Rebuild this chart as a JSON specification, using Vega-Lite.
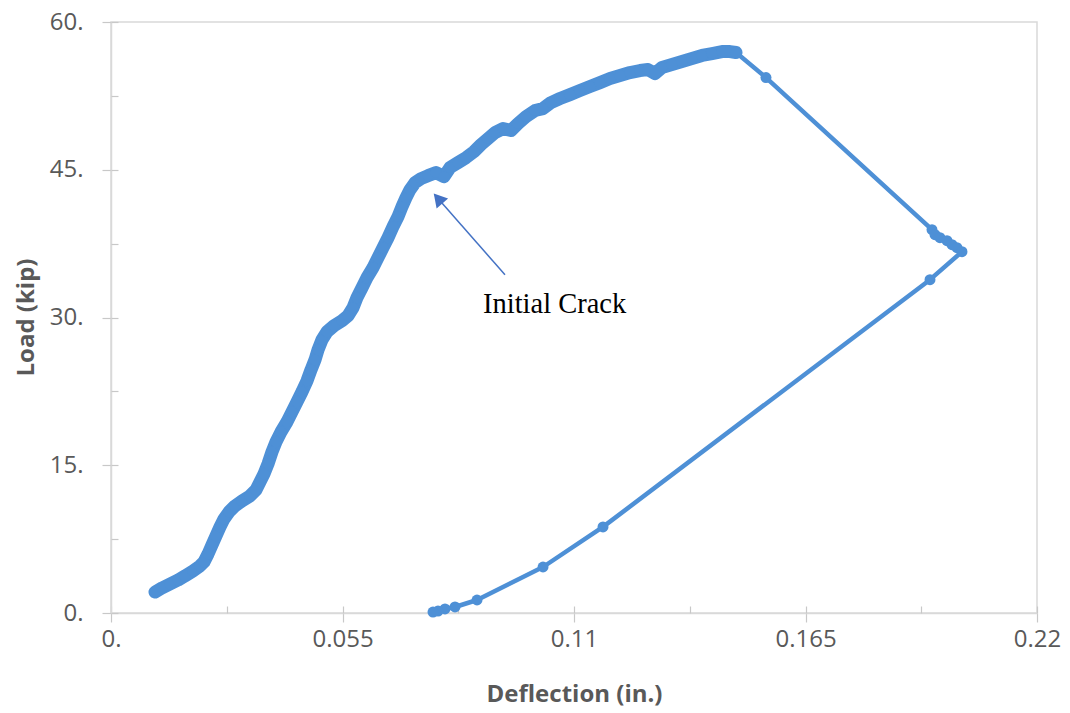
{
  "$schema": "https://vega.github.io/schema/vega-lite/v6.json",
  "width": 926,
  "height": 591,
  "autosize": {"type": "none"},
  "padding": {"left": 111, "top": 22, "right": 33, "bottom": 100},
  "background": "white",
  "config": {
    "view": {"stroke": "#D9D9D9", "strokeWidth": 1.5},
    "font": "Open Sans"
  },
  "datasets": {
    "curve": [
      {"i":1,"seg":"load","deflection":0.01045,"load":2.13},
      {"i":2,"seg":"load","deflection":0.01212,"load":2.54},
      {"i":3,"seg":"load","deflection":0.01402,"load":2.95},
      {"i":4,"seg":"load","deflection":0.01592,"load":3.35},
      {"i":5,"seg":"load","deflection":0.01758,"load":3.76},
      {"i":6,"seg":"load","deflection":0.01948,"load":4.27},
      {"i":7,"seg":"load","deflection":0.02114,"load":4.78},
      {"i":8,"seg":"load","deflection":0.02209,"load":5.18},
      {"i":9,"seg":"load","deflection":0.02305,"load":5.99},
      {"i":10,"seg":"load","deflection":0.024,"load":6.91},
      {"i":11,"seg":"load","deflection":0.02495,"load":7.82},
      {"i":12,"seg":"load","deflection":0.0259,"load":8.74},
      {"i":13,"seg":"load","deflection":0.02685,"load":9.55},
      {"i":14,"seg":"load","deflection":0.02803,"load":10.26},
      {"i":15,"seg":"load","deflection":0.02946,"load":10.87},
      {"i":16,"seg":"load","deflection":0.03112,"load":11.38},
      {"i":17,"seg":"load","deflection":0.03302,"load":11.89},
      {"i":18,"seg":"load","deflection":0.03445,"load":12.5},
      {"i":19,"seg":"load","deflection":0.0354,"load":13.31},
      {"i":20,"seg":"load","deflection":0.03635,"load":14.12},
      {"i":21,"seg":"load","deflection":0.0373,"load":15.14},
      {"i":22,"seg":"load","deflection":0.03825,"load":16.36},
      {"i":23,"seg":"load","deflection":0.0392,"load":17.38},
      {"i":24,"seg":"load","deflection":0.04039,"load":18.39},
      {"i":25,"seg":"load","deflection":0.04181,"load":19.41},
      {"i":26,"seg":"load","deflection":0.043,"load":20.42},
      {"i":27,"seg":"load","deflection":0.04419,"load":21.44},
      {"i":28,"seg":"load","deflection":0.04538,"load":22.46},
      {"i":29,"seg":"load","deflection":0.04657,"load":23.57},
      {"i":30,"seg":"load","deflection":0.04752,"load":24.69},
      {"i":31,"seg":"load","deflection":0.04847,"load":25.71},
      {"i":32,"seg":"load","deflection":0.04918,"load":26.72},
      {"i":33,"seg":"load","deflection":0.05013,"load":27.74},
      {"i":34,"seg":"load","deflection":0.05132,"load":28.55},
      {"i":35,"seg":"load","deflection":0.05298,"load":29.16},
      {"i":36,"seg":"load","deflection":0.05488,"load":29.67},
      {"i":37,"seg":"load","deflection":0.05631,"load":30.18},
      {"i":38,"seg":"load","deflection":0.05749,"load":30.99},
      {"i":39,"seg":"load","deflection":0.05844,"load":32.01},
      {"i":40,"seg":"load","deflection":0.05963,"load":33.02},
      {"i":41,"seg":"load","deflection":0.06082,"load":34.04},
      {"i":42,"seg":"load","deflection":0.06225,"load":35.06},
      {"i":43,"seg":"load","deflection":0.06343,"load":36.07},
      {"i":44,"seg":"load","deflection":0.06462,"load":37.09},
      {"i":45,"seg":"load","deflection":0.06581,"load":38.1},
      {"i":46,"seg":"load","deflection":0.067,"load":39.22},
      {"i":47,"seg":"load","deflection":0.06819,"load":40.24},
      {"i":48,"seg":"load","deflection":0.06914,"load":41.25},
      {"i":49,"seg":"load","deflection":0.07009,"load":42.17},
      {"i":50,"seg":"load","deflection":0.07104,"load":42.98},
      {"i":51,"seg":"load","deflection":0.07222,"load":43.69},
      {"i":52,"seg":"load","deflection":0.07365,"load":44.1},
      {"i":53,"seg":"load","deflection":0.07531,"load":44.4},
      {"i":54,"seg":"load","deflection":0.07721,"load":44.71},
      {"i":55,"seg":"load","deflection":0.07911,"load":44.3},
      {"i":56,"seg":"load","deflection":0.08054,"load":45.22},
      {"i":57,"seg":"load","deflection":0.08244,"load":45.72},
      {"i":58,"seg":"load","deflection":0.08434,"load":46.23},
      {"i":59,"seg":"load","deflection":0.08624,"load":46.84},
      {"i":60,"seg":"load","deflection":0.0879,"load":47.55},
      {"i":61,"seg":"load","deflection":0.08957,"load":48.16},
      {"i":62,"seg":"load","deflection":0.09123,"load":48.77},
      {"i":63,"seg":"load","deflection":0.09313,"load":49.18},
      {"i":64,"seg":"load","deflection":0.09503,"load":48.98},
      {"i":65,"seg":"load","deflection":0.09669,"load":49.69},
      {"i":66,"seg":"load","deflection":0.0986,"load":50.4},
      {"i":67,"seg":"load","deflection":0.10073,"load":51.01},
      {"i":68,"seg":"load","deflection":0.10263,"load":51.21},
      {"i":69,"seg":"load","deflection":0.10454,"load":51.82},
      {"i":70,"seg":"load","deflection":0.10667,"load":52.23},
      {"i":71,"seg":"load","deflection":0.10905,"load":52.63},
      {"i":72,"seg":"load","deflection":0.11142,"load":53.04},
      {"i":73,"seg":"load","deflection":0.1138,"load":53.45},
      {"i":74,"seg":"load","deflection":0.11618,"load":53.85},
      {"i":75,"seg":"load","deflection":0.11855,"load":54.26},
      {"i":76,"seg":"load","deflection":0.12093,"load":54.56},
      {"i":77,"seg":"load","deflection":0.1233,"load":54.87},
      {"i":78,"seg":"load","deflection":0.12568,"load":55.07},
      {"i":79,"seg":"load","deflection":0.12758,"load":55.17},
      {"i":80,"seg":"load","deflection":0.12924,"load":54.77},
      {"i":81,"seg":"load","deflection":0.1309,"load":55.38},
      {"i":82,"seg":"load","deflection":0.13328,"load":55.68},
      {"i":83,"seg":"load","deflection":0.13566,"load":55.99},
      {"i":84,"seg":"load","deflection":0.13803,"load":56.29},
      {"i":85,"seg":"load","deflection":0.14041,"load":56.6},
      {"i":86,"seg":"load","deflection":0.14279,"load":56.8},
      {"i":87,"seg":"load","deflection":0.14516,"load":57.0},
      {"i":88,"seg":"load","deflection":0.14706,"load":57.0},
      {"i":89,"seg":"load","deflection":0.14849,"load":56.9},
      {"i":90,"seg":"unload","deflection":0.15561,"load":54.36},
      {"i":91,"seg":"unload","deflection":0.19505,"load":38.92},
      {"i":92,"seg":"unload","deflection":0.19577,"load":38.41},
      {"i":93,"seg":"unload","deflection":0.19695,"load":38.1},
      {"i":94,"seg":"unload","deflection":0.19862,"load":37.8},
      {"i":95,"seg":"unload","deflection":0.19981,"load":37.39},
      {"i":96,"seg":"unload","deflection":0.20099,"load":37.09},
      {"i":97,"seg":"unload","deflection":0.20218,"load":36.68},
      {"i":98,"seg":"unload","deflection":0.19458,"load":33.84},
      {"i":99,"seg":"unload","deflection":0.11689,"load":8.74},
      {"i":100,"seg":"unload","deflection":0.10264,"load":4.67},
      {"i":101,"seg":"unload","deflection":0.08696,"load":1.32},
      {"i":102,"seg":"unload","deflection":0.08173,"load":0.61},
      {"i":103,"seg":"unload","deflection":0.07935,"load":0.41},
      {"i":104,"seg":"unload","deflection":0.07769,"load":0.2},
      {"i":105,"seg":"unload","deflection":0.0765,"load":0.1}
    ],
    "arrow": [
      {"x0":0.0936,"y0":34.34,"x1":0.07816,"y1":41.86,"hx":0.0777,"hy":42.08}
    ],
    "note": [
      {"x":0.08838,"y":30.48,"text":"Initial Crack"}
    ]
  },
  "layer": [
    {
      "data": {"name": "curve"},
      "transform": [{"filter": "datum.seg === 'load'"}],
      "mark": {"type": "line", "color": "#4E90D6", "strokeWidth": 13, "strokeCap": "round", "strokeJoin": "round"},
      "encoding": {
        "x": {
          "field": "deflection", "type": "quantitative",
          "scale": {"domain": [0, 0.22], "nice": false, "zero": false},
          "axis": {
            "orient": "bottom",
            "title": "Deflection (in.)",
            "values": [0, 0.055, 0.11, 0.165, 0.22],
            "labelExpr": "datum.value === 0 ? '0.' : format(datum.value, '.3~f')",
            "grid": false,
            "domainColor": "#D9D9D9", "domainWidth": 1.5,
            "tickColor": "#C8C8C8", "tickSize": 9, "tickWidth": 1.2,
            "labelColor": "#595959", "labelFontSize": 24, "labelFont": "Open Sans",
            "labelPadding": 5, "labelFlush": false, "labelOverlap": false,
            "titleColor": "#595959", "titleFontSize": 24, "titleFont": "Open Sans", "titleFontWeight": "bold",
            "titleY": 81, "titleBaseline": "middle", "titleX": 463, "titleAlign": "center"
          }
        },
        "y": {
          "field": "load", "type": "quantitative",
          "scale": {"domain": [0, 60], "nice": false},
          "axis": {
            "orient": "left",
            "title": "Load (kip)",
            "values": [0, 15, 30, 45, 60],
            "labelExpr": "datum.value + '.'",
            "grid": false,
            "domainColor": "#D9D9D9", "domainWidth": 1.5,
            "tickColor": "#C8C8C8", "tickSize": 9, "tickWidth": 1.2,
            "labelColor": "#595959", "labelFontSize": 24, "labelFont": "Open Sans",
            "labelPadding": 19, "labelFlush": false, "labelOverlap": false,
            "titleColor": "#595959", "titleFontSize": 24, "titleFont": "Open Sans", "titleFontWeight": "bold",
            "titleX": -85, "titleY": 295, "titleAngle": -90, "titleAlign": "center", "titleBaseline": "middle"
          }
        },
        "order": {"field": "i", "type": "quantitative"}
      }
    },
    {
      "data": {"name": "curve"},
      "mark": {"type": "line", "color": "#4E90D6", "strokeWidth": 4.5, "strokeJoin": "round"},
      "encoding": {
        "x": {"field": "deflection", "type": "quantitative", "axis": null},
        "y": {"field": "load", "type": "quantitative", "axis": null},
        "order": {"field": "i", "type": "quantitative"}
      }
    },
    {
      "data": {"name": "curve"},
      "mark": {"type": "point", "shape": "circle", "filled": true, "size": 120, "color": "#4E90D6", "opacity": 1},
      "encoding": {
        "x": {"field": "deflection", "type": "quantitative", "axis": null},
        "y": {"field": "load", "type": "quantitative", "axis": null}
      }
    },
    {
      "data": {"name": "arrow"},
      "mark": {"type": "rule", "color": "#4472C4", "strokeWidth": 1.5},
      "encoding": {
        "x": {
          "field": "x0", "type": "quantitative",
          "axis": {
            "orient": "bottom", "title": null, "labels": false, "domain": false, "grid": false,
            "values": [0, 0.0275, 0.055, 0.0825, 0.11, 0.1375, 0.165, 0.1925, 0.22],
            "tickSize": -7, "tickColor": "#C8C8C8", "tickWidth": 1.2
          }
        },
        "y": {
          "field": "y0", "type": "quantitative",
          "axis": {
            "orient": "left", "title": null, "labels": false, "domain": false, "grid": false,
            "values": [0, 7.5, 15, 22.5, 30, 37.5, 45, 52.5, 60],
            "tickSize": -7, "tickColor": "#C8C8C8", "tickWidth": 1.2
          }
        },
        "x2": {"field": "x1"},
        "y2": {"field": "y1"}
      }
    },
    {
      "data": {"name": "arrow"},
      "mark": {"type": "point", "shape": "triangle-up", "filled": true, "size": 230, "angle": 319, "color": "#4472C4", "opacity": 1},
      "encoding": {
        "x": {"field": "hx", "type": "quantitative", "axis": null},
        "y": {"field": "hy", "type": "quantitative", "axis": null}
      }
    },
    {
      "data": {"name": "note"},
      "mark": {"type": "text", "font": "Liberation Serif", "fontSize": 28.5, "color": "black", "align": "left", "baseline": "alphabetic"},
      "encoding": {
        "x": {"field": "x", "type": "quantitative", "axis": null},
        "y": {"field": "y", "type": "quantitative", "axis": null},
        "text": {"field": "text"}
      }
    }
  ],
  "resolve": {"axis": {"x": "independent", "y": "independent"}}
}
